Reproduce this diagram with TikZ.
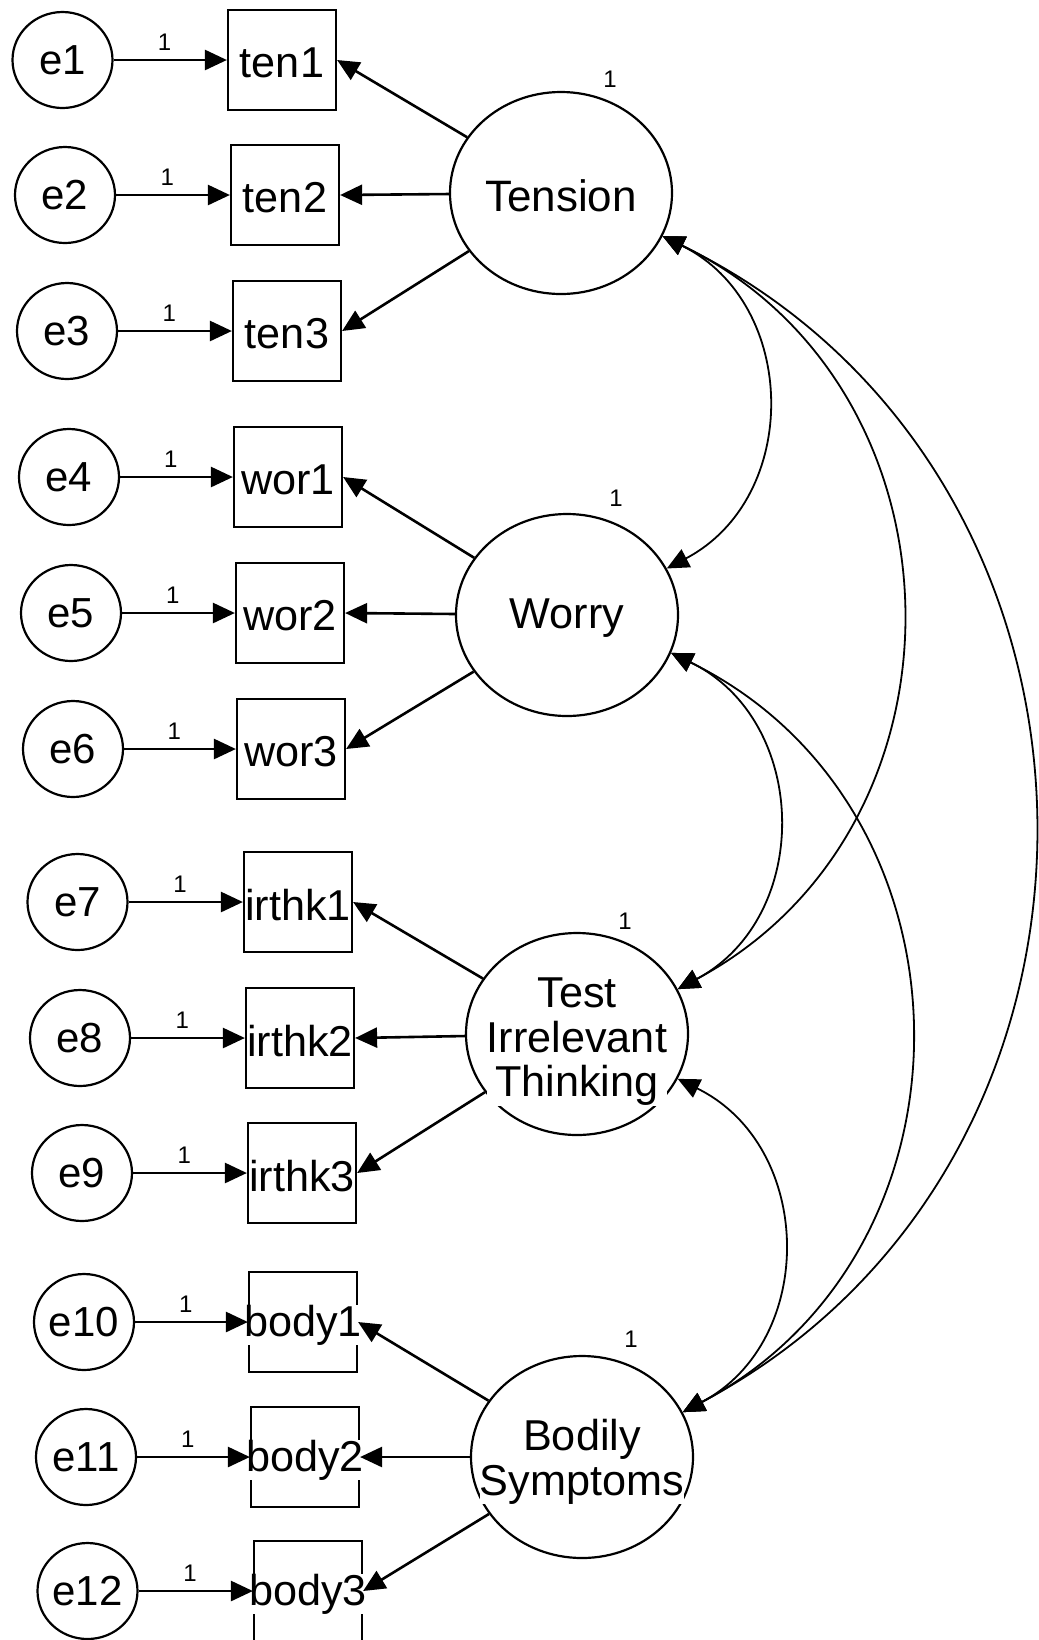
\documentclass[tikz,border=0pt]{standalone}
\usepackage{fontspec}
\setmainfont{Liberation Sans}
\usetikzlibrary{arrows.meta,shapes.geometric}

\begin{document}
\begin{tikzpicture}[x=0.5pt, y=-0.5pt,
  errvar/.style={ellipse, draw, line width=1.1pt, minimum width=50pt, minimum height=48pt, inner sep=0pt, font=\fontsize{21}{22}\selectfont},
  obsvar/.style={rectangle, draw, line width=1.1pt, minimum width=54pt, minimum height=50pt, inner sep=0pt},
  latvar/.style={ellipse, draw, line width=1.1pt, minimum width=111pt, minimum height=101pt, inner sep=0pt},
  vname/.style={fill=white, inner sep=0pt, align=center, yshift=-1.5pt, font=\fontsize{21.6}{22.2}\selectfont},
  regr/.style={-{Triangle[length=11pt,width=10pt]}, line width=1.3pt},
  cov/.style={{Triangle[length=11pt,width=10pt]}-{Triangle[length=11pt,width=10pt]}, line width=0.9pt, bend left=63, looseness=1.17},
  one/.style={font=\fontsize{12}{13}\selectfont, inner sep=1pt}]

  \useasboundingbox (0,0) rectangle (1039,1640);

  % Error terms
  \node[errvar] (e1) at (62.5,60) {e1};
  \node[errvar] (e2) at (65,195) {e2};
  \node[errvar] (e3) at (67,331) {e3};
  \node[errvar] (e4) at (69,477) {e4};
  \node[errvar] (e5) at (71,613) {e5};
  \node[errvar] (e6) at (73,749) {e6};
  \node[errvar] (e7) at (77.5,902) {e7};
  \node[errvar] (e8) at (80,1038) {e8};
  \node[errvar] (e9) at (82,1173) {e9};
  \node[errvar] (e10) at (84,1322) {e10};
  \node[errvar] (e11) at (86,1457) {e11};
  \node[errvar] (e12) at (87.5,1591) {e12};

  % Observed items
  \node[obsvar, label={[vname]center:ten1}] (ten1) at (282,60) {};
  \node[obsvar, label={[vname]center:ten2}] (ten2) at (285,195) {};
  \node[obsvar, label={[vname]center:ten3}] (ten3) at (287,331) {};
  \node[obsvar, label={[vname]center:wor1}] (wor1) at (288,477) {};
  \node[obsvar, label={[vname]center:wor2}] (wor2) at (290,613) {};
  \node[obsvar, label={[vname]center:wor3}] (wor3) at (291,749) {};
  \node[obsvar, label={[vname]center:irthk1}] (irthk1) at (298,902) {};
  \node[obsvar, label={[vname]center:irthk2}] (irthk2) at (300,1038) {};
  \node[obsvar, label={[vname]center:irthk3}] (irthk3) at (302,1173) {};
  \node[obsvar, label={[vname]center:body1}] (body1) at (303,1322) {};
  \node[obsvar, label={[vname]center:body2}] (body2) at (305,1457) {};
  \node[obsvar, label={[vname]center:body3}] (body3) at (308,1591) {};

  % Latent factors
  \node[latvar, label={[vname, font=\fontsize{22}{22.2}\selectfont]center:Tension}] (tens) at (561,193) {};
  \node[latvar, label={[vname]center:Worry}] (worry) at (567,615) {};
  \node[latvar, label={[vname, yshift=-2.5pt]center:{Test\\Irrelevant\\Thinking}}] (irthk) at (577,1034) {};
  \node[latvar, label={[vname, yshift=-1pt]center:{Bodily\\Symptoms}}] (bodily) at (582,1457) {};

  % Factor variances fixed to 1
  \node[one] (vtens) at (610,79) {1};
  \node[one] (vworry) at (616,498) {1};
  \node[one] (virthk) at (625,921) {1};
  \node[one] (vbodily) at (631,1339) {1};

  % Error paths
  \draw[regr] (e1) -- (ten1) node[one, above=3pt, pos=0.45] (l1) {1};
  \draw[regr] (e2) -- (ten2) node[one, above=3pt, pos=0.45] (l2) {1};
  \draw[regr] (e3) -- (ten3) node[one, above=3pt, pos=0.45] (l3) {1};
  \draw[regr] (e4) -- (wor1) node[one, above=3pt, pos=0.45] (l4) {1};
  \draw[regr] (e5) -- (wor2) node[one, above=3pt, pos=0.45] (l5) {1};
  \draw[regr] (e6) -- (wor3) node[one, above=3pt, pos=0.45] (l6) {1};
  \draw[regr] (e7) -- (irthk1) node[one, above=3pt, pos=0.45] (l7) {1};
  \draw[regr] (e8) -- (irthk2) node[one, above=3pt, pos=0.45] (l8) {1};
  \draw[regr] (e9) -- (irthk3) node[one, above=3pt, pos=0.45] (l9) {1};
  \draw[regr] (e10) -- (body1) node[one, above=3pt, pos=0.45] (l10) {1};
  \draw[regr] (e11) -- (body2) node[one, above=3pt, pos=0.45] (l11) {1};
  \draw[regr] (e12) -- (body3) node[one, above=3pt, pos=0.45] (l12) {1};

  % Loadings
  \draw[regr] (tens) -- (ten1.east);
  \draw[regr] (tens) -- (ten2.east);
  \draw[regr] (tens) -- (ten3.east);
  \draw[regr] (worry) -- (wor1.east);
  \draw[regr] (worry) -- (wor2.east);
  \draw[regr] (worry) -- (wor3.east);
  \draw[regr] (irthk) -- (irthk1.east);
  \draw[regr] (irthk) -- (irthk2.east);
  \draw[regr] (irthk) -- (irthk3.east);
  \draw[regr] (bodily) -- (body1.east);
  \draw[regr] (bodily) -- (body2.east);
  \draw[regr] (bodily) -- (body3.east);

  % Factor covariances
  \draw[cov] (tens.-23) to (worry.25);
  \draw[cov] (tens.-23) to (irthk.24);
  \draw[cov] (tens.-23) to (bodily.24);
  \draw[cov] (worry.-20) to (irthk.24);
  \draw[cov] (worry.-20) to (bodily.24);
  \draw[cov] (irthk.-24) to (bodily.24);
\end{tikzpicture}
\end{document}
